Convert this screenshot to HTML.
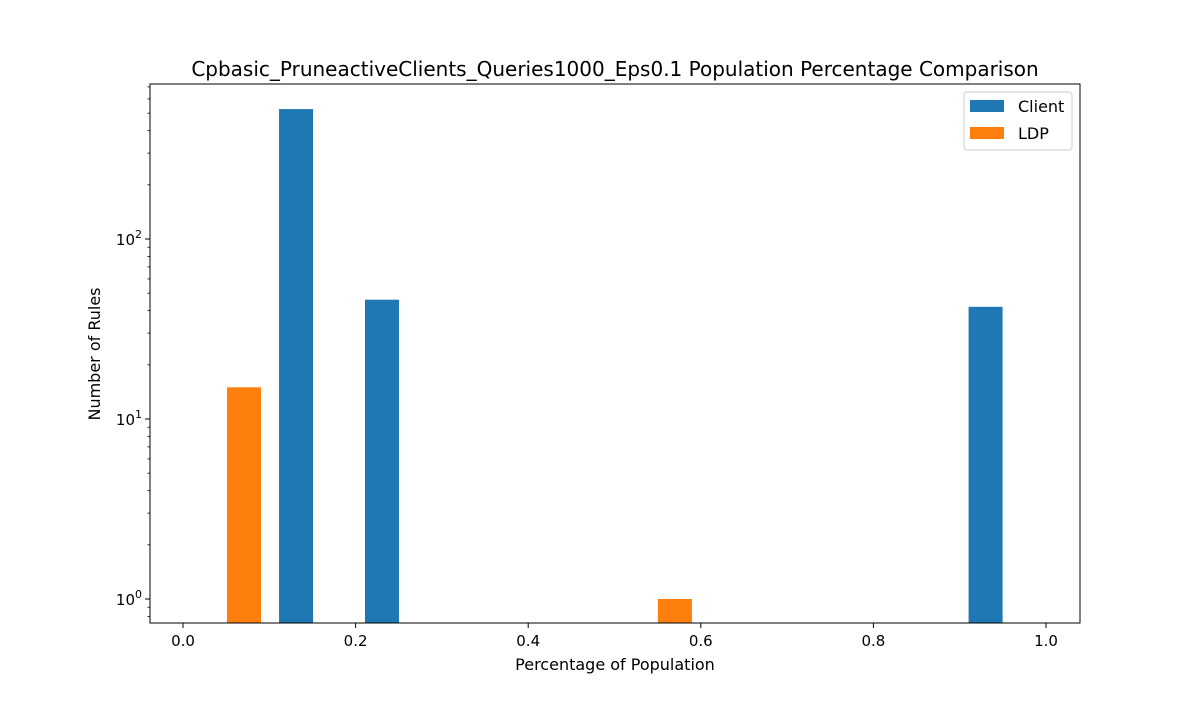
<!DOCTYPE html>
<html><head><meta charset="utf-8"><style>
body{margin:0;background:#fff;}
svg text{font-family:"DejaVu Sans","Liberation Sans",sans-serif;fill:#000;}
</style></head><body>
<svg id="c" width="1200" height="700" xmlns="http://www.w3.org/2000/svg"></svg>
<script>
const clientX=[0.131,0.2306,0.930];
const clientY=[527,46,42];
const ldpX=[0.0707,0.570];
const ldpY=[15,1];
const barWidth=0.0394;
const xTicks=[0,0.2,0.4,0.6,0.8,1.0];
const xTickLabels=["0.0","0.2","0.4","0.6","0.8","1.0"];
const yDecades=[0,1,2];

const L=150,R=1080,T=84,B=623;
const X0=183,XS=863;
const Y0=599,DEC=180;
const sx=v=>X0+v*XS;
const sy=v=>Y0-Math.log10(v)*DEC;
const svg=document.getElementById('c');
const NS='http://www.w3.org/2000/svg';
function mk(tag,attrs,parent){const e=document.createElementNS(NS,tag);for(const k in attrs)e.setAttribute(k,attrs[k]);(parent||svg).appendChild(e);return e;}

function bars(xs,ys,color,name){
  xs.forEach((x,i)=>{
    const l=sx(x-barWidth/2),r=sx(x+barWidth/2),t=sy(ys[i]);
    const b=mk('rect',{x:l,y:t,width:r-l,height:B-t,fill:color});
    
    
  });
}
bars(clientX,clientY,'#1f77b4','client');
bars(ldpX,ldpY,'#ff7f0e','ldp');

const frame=mk('rect',{x:L,y:T,width:R-L,height:B-T,fill:'none',stroke:'#000','stroke-width':1});



xTicks.forEach((v,i)=>{
  const x=sx(v);
  mk('line',{x1:x,x2:x,y1:B,y2:B+5,stroke:'#000'});
  const t=mk('text',{x:x,y:B+23,'text-anchor':'middle','font-size':15});
  t.textContent=xTickLabels[i];
  
  
});
yDecades.forEach(d=>{
  const y=Y0-d*DEC;
  mk('line',{x1:L-5,x2:L,y1:y,y2:y,stroke:'#000'});
  const t=mk('text',{x:L-8,y:y+6,'text-anchor':'end','font-size':15});
  t.innerHTML='10<tspan dy="-7" font-size="11">'+d+'</tspan>';
  
  
});
for(let d=-1;d<=2;d++){for(let m=2;m<=9;m++){const v=m*Math.pow(10,d);const y=sy(v);if(y>T&&y<B)mk('line',{x1:L-2.5,x2:L,y1:y,y2:y,stroke:'#000','stroke-width':0.8});}}

let t=mk('text',{x:615,y:76,'text-anchor':'middle','font-size':20});
t.textContent='Cpbasic_PruneactiveClients_Queries1000_Eps0.1 Population Percentage Comparison';

t=mk('text',{x:615,y:670,'text-anchor':'middle','font-size':16});
t.textContent='Percentage of Population';

t=mk('text',{x:100,y:354,'text-anchor':'middle','font-size':16,transform:'rotate(-90 100 354)'});
t.textContent='Number of Rules';


const lg=mk('g',{});

mk('rect',{x:964,y:92,width:108,height:58,rx:3,fill:'#fff',stroke:'#ccc'},lg);
mk('rect',{x:970,y:100,width:34,height:12,fill:'#1f77b4'},lg);
mk('rect',{x:970,y:127,width:34,height:12,fill:'#ff7f0e'},lg);
t=mk('text',{x:1018,y:112,'font-size':16},lg);t.textContent='Client';

t=mk('text',{x:1018,y:139,'font-size':16},lg);t.textContent='LDP';

</script>
</body></html>
